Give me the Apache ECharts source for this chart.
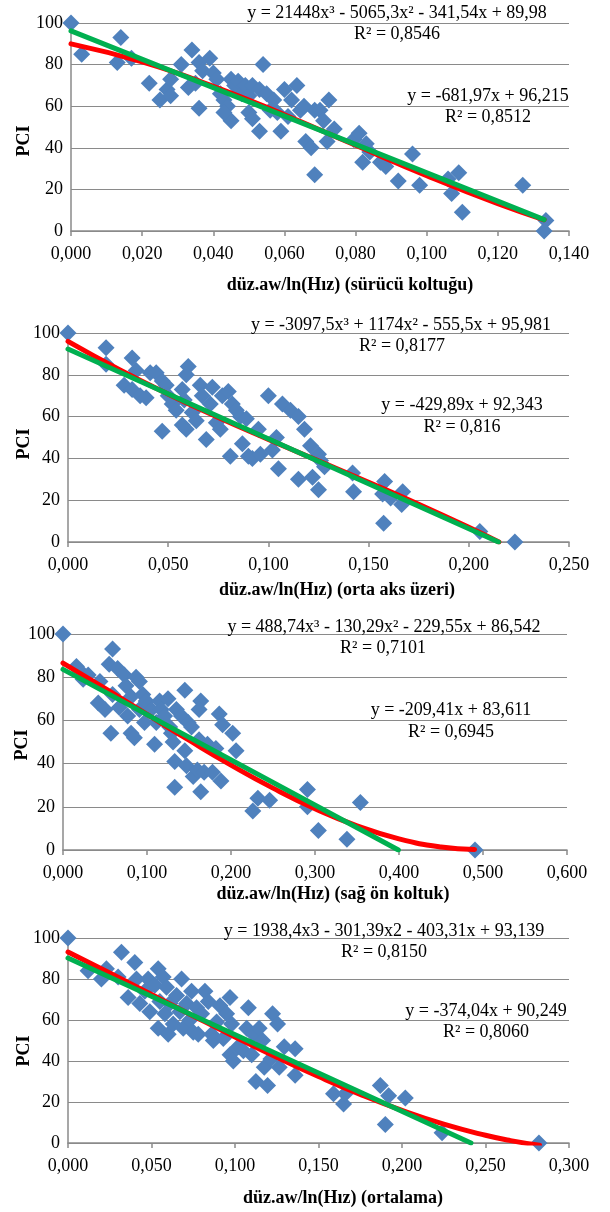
<!DOCTYPE html>
<html><head><meta charset="utf-8">
<script src="https://cdn.jsdelivr.net/npm/echarts@6/dist/echarts.min.js"></script>
<style>html,body{margin:0;padding:0;background:#fff}#c{width:610px;height:1212px}</style>
</head><body><div id="c"></div><script>
// ---- data ----
const xTitles = ['düz.aw/ln(Hız) (sürücü koltuğu)', 'düz.aw/ln(Hız) (orta aks üzeri)', 'düz.aw/ln(Hız) (sağ ön koltuk)', 'düz.aw/ln(Hız) (ortalama)'];
const yTitle = 'PCI';
const cubicEq = ['y = 21448x³ - 5065,3x² - 341,54x + 89,98', 'y = -3097,5x³ + 1174x² - 555,5x + 95,981', 'y = 488,74x³ - 130,29x² - 229,55x + 86,542', 'y = 1938,4x3 - 301,39x2 - 403,31x + 93,139'];
const cubicR2 = ['R² = 0,8546', 'R² = 0,8177', 'R² = 0,7101', 'R² = 0,8150'];
const linearEq = ['y = -681,97x + 96,215', 'y = -429,89x + 92,343', 'y = -209,41x + 83,611', 'y = -374,04x + 90,249'];
const linearR2 = ['R² = 0,8512', 'R² = 0,816', 'R² = 0,6945', 'R² = 0,8060'];
const xMaxes = [0.14, 0.25, 0.6, 0.3];
const xSteps = [0.02, 0.05, 0.1, 0.05];
const yMax = 100, yStep = 20;

const scatter1 = [[0,100],[0.003,85],[0.013,81],[0.014,93],[0.017,83],[0.022,71],[0.025,63],[0.027,68],[0.028,65],[0.028,73],[0.031,80],[0.034,87],[0.033,69],[0.035,71],[0.036,59],[0.036,81],[0.037,77],[0.039,83],[0.040,76],[0.041,73],[0.042,66],[0.043,63],[0.044,60],[0.045,53],[0.043,57],[0.045,73],[0.046,70],[0.047,72],[0.048,66],[0.049,70],[0.050,65],[0.051,70],[0.050,57],[0.051,54],[0.053,68],[0.054,80],[0.053,48],[0.055,66],[0.056,58],[0.057,63],[0.058,57],[0.059,48],[0.060,68],[0.062,63],[0.061,55],[0.0635,70],[0.0645,58],[0.066,43],[0.0675,40],[0.0685,27],[0.0685,58],[0.0655,60],[0.070,58],[0.0725,63],[0.071,53],[0.074,49],[0.072,43],[0.0795,44],[0.081,47],[0.083,42],[0.084,38],[0.082,33],[0.087,33],[0.0885,31],[0.092,24],[0.096,37],[0.098,22],[0.106,25],[0.107,18],[0.109,28],[0.110,9],[0.127,22],[0.1335,5],[0.133,0]];
const scatter2 = [[0,100],[0.019,93],[0.019,85],[0.028,75],[0.032,88],[0.034,82],[0.032,73],[0.036,70],[0.039,69],[0.041,81],[0.044,81],[0.047,77],[0.049,75],[0.047,53],[0.050,70],[0.052,66],[0.054,63],[0.057,73],[0.058,68],[0.057,56],[0.059,54],[0.060,84],[0.059,80],[0.062,62],[0.064,58],[0.066,75],[0.067,70],[0.069,49],[0.071,66],[0.072,74],[0.074,57],[0.076,54],[0.077,70],[0.080,72],[0.081,41],[0.082,66],[0.084,63],[0.086,60],[0.087,47],[0.089,59],[0.090,41],[0.092,40],[0.095,54],[0.096,42],[0.100,70],[0.104,50],[0.105,35],[0.102,44],[0.107,66],[0.111,63],[0.115,60],[0.118,54],[0.115,30],[0.121,46],[0.122,31],[0.125,25],[0.125,42],[0.126,39],[0.128,36],[0.142,33],[0.1425,24],[0.157,23],[0.158,29],[0.161,21],[0.1575,9],[0.167,24],[0.1665,18],[0.2055,5],[0.223,0]];
const scatter3 = [[0,100],[0.016,85],[0.020,83],[0.030,81],[0.024,79],[0.044,78],[0.042,68],[0.050,65],[0.059,93],[0.057,54],[0.055,86],[0.059,72],[0.065,84],[0.067,66],[0.073,81],[0.077,62],[0.075,76],[0.081,71],[0.081,54],[0.085,52],[0.087,80],[0.091,78],[0.091,65],[0.095,72],[0.097,59],[0.099,69],[0.105,65],[0.109,49],[0.111,59],[0.115,69],[0.117,65],[0.121,62],[0.125,70],[0.127,57],[0.129,54],[0.131,50],[0.133,41],[0.133,29],[0.135,65],[0.141,62],[0.145,74],[0.145,46],[0.147,39],[0.149,59],[0.153,57],[0.155,34],[0.160,37],[0.162,51],[0.164,69],[0.162,65],[0.164,27],[0.168,36],[0.172,49],[0.178,36],[0.182,47],[0.186,63],[0.188,32],[0.190,58],[0.202,54],[0.206,46],[0.226,18],[0.232,24],[0.246,23],[0.291,28],[0.291,20],[0.304,9],[0.338,5],[0.354,22],[0.4905,0]];
const scatter4 = [[0,100],[0.012,84],[0.020,80],[0.023,85],[0.030,81],[0.032,93],[0.036,71],[0.040,88],[0.041,80],[0.043,68],[0.046,74],[0.048,80],[0.049,64],[0.052,77],[0.054,85],[0.055,69],[0.054,56],[0.057,81],[0.058,63],[0.059,76],[0.060,53],[0.061,68],[0.063,58],[0.065,72],[0.067,64],[0.068,80],[0.069,56],[0.071,68],[0.073,60],[0.074,74],[0.075,54],[0.077,66],[0.078,53],[0.080,63],[0.082,74],[0.084,69],[0.086,53],[0.087,50],[0.089,59],[0.091,67],[0.093,51],[0.095,63],[0.097,71],[0.098,58],[0.097,43],[0.099,40],[0.102,47],[0.105,45],[0.107,56],[0.108,66],[0.110,43],[0.111,53],[0.1125,30],[0.1145,56],[0.1165,50],[0.1175,37],[0.1195,28],[0.1215,41],[0.1225,63],[0.1255,58],[0.1265,37],[0.1295,47],[0.136,46],[0.136,33],[0.159,24],[0.165,19],[0.166,24],[0.187,28],[0.192,23],[0.190,9],[0.202,22],[0.224,5],[0.282,0]];

// trend lines
const cubic1 = [[0,89.98],[0.02,81.3],[0.04,69.6],[0.06,55.9],[0.08,41.2],[0.10,26.6],[0.12,13.1],[0.133,5.4]];
const linear1 = [[0,96.2],[0.133,5.5]];
const cubic2 = [[0,95.98],[0.025,82.8],[0.05,70.75],[0.075,59.6],[0.10,49.1],[0.125,38.8],[0.15,28.6],[0.175,18.1],[0.20,7.06],[0.215,0]];
const linear2 = [[0,92.34],[0.2148,0]];
const cubic3 = [[0,86.54],[0.05,74.8],[0.10,62.77],[0.15,50.83],[0.20,39.33],[0.25,28.65],[0.30,19.15],[0.35,11.19],[0.40,5.15],[0.45,1.4],[0.49,0.28]];
const linear3 = [[0,83.61],[0.3993,0]];
const cubic4 = [[0,93.14],[0.025,82.9],[0.05,72.46],[0.075,62.0],[0.10,51.73],[0.125,41.8],[0.15,32.4],[0.175,23.7],[0.20,15.93],[0.225,9.22],[0.25,3.76],[0.265,1.17],[0.2824,-1.1]];
const linear4 = [[0,90.25],[0.2413,0]];

const scatters = [scatter1, scatter2, scatter3, scatter4];
const cubics = [cubic1, cubic2, cubic3, cubic4];
const linears = [linear1, linear2, linear3, linear4];

// ---- layout ----
const FONT = "'Liberation Serif','Times New Roman',serif";
const grids = [
  {left: 71, top: 23, width: 498, height: 208},
  {left: 68, top: 333, width: 501, height: 209},
  {left: 63, top: 634, width: 504, height: 216},
  {left: 68, top: 938, width: 501, height: 205}
];
const xTitlePos = [[350, 285], [337, 590], [333, 894], [343, 1198]];
const yTitlePos = [[24, 141], [24, 444], [22, 745], [24, 1051]];
const cubicEqPos = [[397, 13], [401, 325], [384, 627], [384, 931]];
const cubicR2Pos = [[397, 34], [402, 346], [383, 648], [384, 952]];
const linEqPos = [[488, 96], [462, 405], [451, 710], [486, 1011]];
const linR2Pos = [[488, 117], [462, 427], [451, 732], [486, 1032]];

const gridColor = '#8a8a8a';
const xAxis = [], yAxis = [], series = [], graphic = [];
function txt(t, p, bold, rot) {
  return {type: 'text', x: p[0], y: p[1], rotation: rot || 0, z: 10,
    style: {text: t, font: (bold ? 'bold ' : '') + '18px ' + FONT, fill: '#000',
      textAlign: 'center', align: 'center', textVerticalAlign: 'middle', verticalAlign: 'middle'}};
}
for (let i = 0; i < 4; i++) {
  xAxis.push({gridIndex: i, type: 'value', min: 0, max: xMaxes[i], interval: xSteps[i],
    axisLine: {show: true, lineStyle: {color: gridColor, width: 1.5}},
    axisTick: {show: true, length: 5, lineStyle: {color: gridColor, width: 1.5}},
    splitLine: {show: false},
    axisLabel: {fontFamily: FONT, fontSize: 18, color: '#000', margin: 14,
      formatter: v => v.toFixed(3).replace('.', ',')}});
  yAxis.push({gridIndex: i, type: 'value', min: 0, max: yMax, interval: yStep,
    axisLine: {show: true, lineStyle: {color: gridColor, width: 1.5}},
    axisTick: {show: false},
    splitLine: {show: true, lineStyle: {color: gridColor, width: 1.2}},
    axisLabel: {fontFamily: FONT, fontSize: 18, color: '#000', margin: 8}});
  series.push({type: 'scatter', xAxisIndex: i, yAxisIndex: i, data: scatters[i],
    symbol: 'diamond', symbolSize: 17, itemStyle: {color: '#4F81BD', opacity: 1}, z: 2, silent: true});
  series.push({type: 'line', xAxisIndex: i, yAxisIndex: i, data: cubics[i], smooth: 0.5,
    showSymbol: false, lineStyle: {color: '#FF0000', width: 5, cap: 'round'}, z: 3, silent: true});
  series.push({type: 'line', xAxisIndex: i, yAxisIndex: i, data: linears[i],
    showSymbol: false, lineStyle: {color: '#00B050', width: 5, cap: 'round'}, z: 4, silent: true});
  graphic.push(txt(xTitles[i], xTitlePos[i], true));
  graphic.push(txt(yTitle, yTitlePos[i], true, Math.PI / 2));
  graphic.push(txt(cubicEq[i], cubicEqPos[i]));
  graphic.push(txt(cubicR2[i], cubicR2Pos[i]));
  graphic.push(txt(linearEq[i], linEqPos[i]));
  graphic.push(txt(linearR2[i], linR2Pos[i]));
}
const chart = echarts.init(document.getElementById('c'), null, {renderer: 'canvas'});
chart.setOption({backgroundColor: '#fff', animation: false, grid: grids, xAxis, yAxis, series, graphic});
</script></body></html>
